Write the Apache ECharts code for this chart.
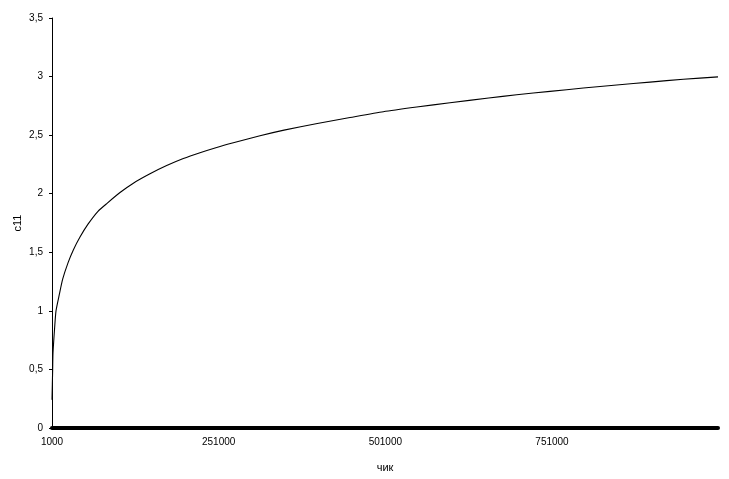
<!DOCTYPE html>
<html>
<head>
<meta charset="utf-8">
<script src="https://cdn.jsdelivr.net/npm/echarts@6/dist/echarts.min.js"></script>
<style>
  html, body { margin: 0; padding: 0; background: #fff; }
  #chart { width: 729px; height: 479px; }
</style>
</head>
<body>
<div id="chart"></div>
<script>
// x values (чик)
const xValues = [1000, 2000, 2500, 5000, 7000, 12000, 17000, 25000, 33000, 43000,
  55000, 70000, 84000, 103000, 123000, 148000, 173000, 198000, 223000, 248000,
  273000, 313000, 349000, 399000, 448000, 498000, 548000, 598000, 656000, 698000,
  748000, 798000, 848000, 898000, 948000, 1000000];
// y values (c11)
const yValues = [0.24, 0.5, 0.64, 0.86, 1.0, 1.14, 1.27, 1.41, 1.52, 1.63,
  1.74, 1.85, 1.92, 2.01, 2.09, 2.17, 2.24, 2.30, 2.35, 2.395,
  2.435, 2.495, 2.543, 2.60, 2.65, 2.70, 2.74, 2.777, 2.817, 2.845,
  2.874, 2.902, 2.928, 2.953, 2.977, 2.997];
const xTickLabels = ['1000', '251000', '501000', '751000'];
const yTickLabels = ['0', '0,5', '1', '1,5', '2', '2,5', '3', '3,5'];

const chart = echarts.init(document.getElementById('chart'));
const font = 'Liberation Sans, Arial, sans-serif';
chart.setOption({
  animation: false,
  backgroundColor: '#ffffff',
  grid: { left: 52, right: 11, top: 18, bottom: 51 },
  xAxis: {
    type: 'value',
    min: 1000, max: 1000000, interval: 250000,
    name: 'чик', nameLocation: 'middle', nameGap: 34,
    nameTextStyle: { fontFamily: font, fontSize: 11, color: '#000' },
    axisLine: { show: true, onZero: false, lineStyle: { color: '#000', width: 4 } },
    axisTick: { show: false },
    splitLine: { show: false },
    axisLabel: {
      fontFamily: font, fontSize: 10, color: '#000', margin: 9,
      showMaxLabel: false,
      formatter: function (v) {
        const i = Math.round((v - 1000) / 250000);
        return xTickLabels[i] !== undefined && Math.abs(v - (1000 + i * 250000)) < 1 ? xTickLabels[i] : '';
      }
    }
  },
  yAxis: {
    type: 'value',
    min: 0, max: 3.5, interval: 0.5,
    name: 'c11', nameLocation: 'middle', nameGap: 29,
    nameMoveOverlap: false,
    nameTextStyle: { fontFamily: font, fontSize: 11, color: '#000' },
    axisLine: { show: true, lineStyle: { color: '#000', width: 1 } },
    axisTick: { show: true, length: 3, lineStyle: { color: '#000' } },
    splitLine: { show: false },
    axisLabel: {
      fontFamily: font, fontSize: 10, color: '#000', margin: 9,
      formatter: function (v) {
        const i = Math.round(v / 0.5);
        return yTickLabels[i] !== undefined ? yTickLabels[i] : '';
      }
    }
  },
  series: [{
    type: 'line',
    data: xValues.map((x, i) => [x, yValues[i]]),
    showSymbol: false,
    symbol: 'none',
    smooth: 0.2,
    lineStyle: { color: '#000', width: 1.1 },
    z: 3
  }]
});
</script>
</body>
</html>
